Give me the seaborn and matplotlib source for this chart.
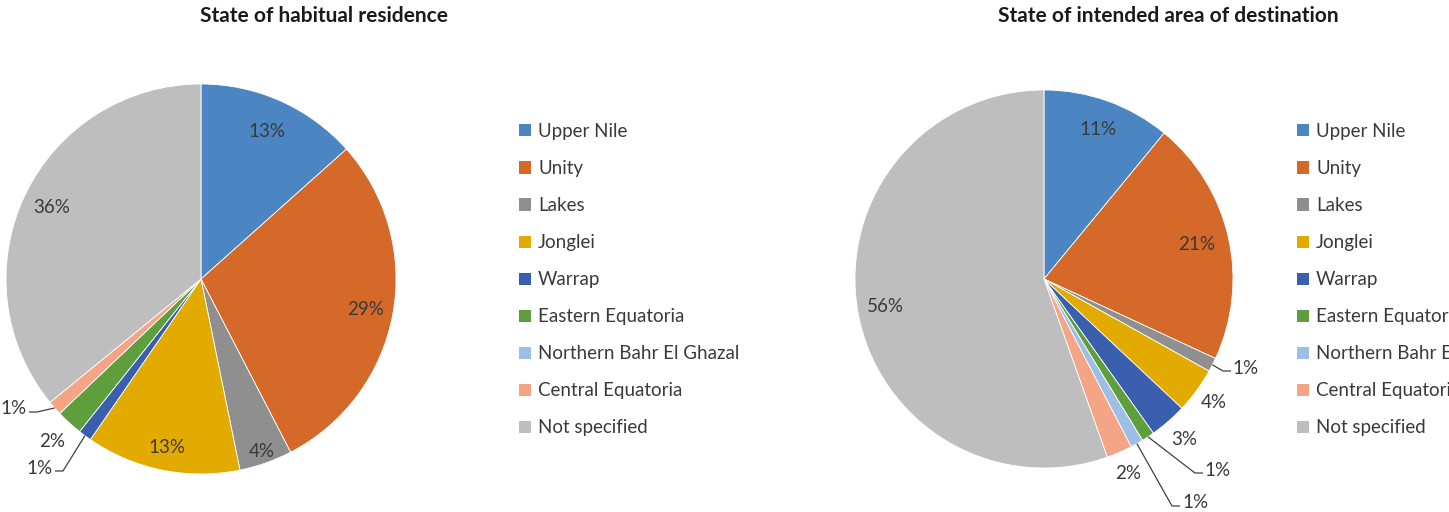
import numpy as np
import matplotlib
matplotlib.use("Agg")
import matplotlib.pyplot as plt
import seaborn as sns
from matplotlib.patches import Patch

# ---------------- data ----------------
categories = ["Upper Nile", "Unity", "Lakes", "Jonglei", "Warrap",
              "Eastern Equatoria", "Northern Bahr El Ghazal",
              "Central Equatoria", "Not specified"]
residence_values = [13.4, 29.0, 4.4, 12.8, 1.1, 2.2, 0.0, 1.2, 35.9]
destination_values = [11.0, 21.0, 1.2, 3.9, 3.2, 1.1, 1.1, 2.2, 55.6]
titles = ["State of habitual residence", "State of intended area of destination"]
colors = ["#4C86C2", "#D4692A", "#8F8F8F", "#E3AB00", "#3A5FAE",
          "#5E9E3C", "#9DBFE6", "#F4A585", "#BEBEBE"]

sns.set_theme(style="white")
FONT = ["Lato", "DejaVu Sans"]
plt.rcParams["font.family"] = FONT

W, H = 1449, 512
fig = plt.figure(figsize=(W / 100, H / 100), dpi=100)
LABEL_FS = 13.5
TXT = "#3a3a3a"


def make_axes(cx, cy, R, x0, x1, y0, y1):
    """axes covering pixel box x0..x1, y0..y1 (from top), pie of radius 1 centred at (cx, cy) px"""
    ax = fig.add_axes([x0 / W, 1 - y1 / H, (x1 - x0) / W, (y1 - y0) / H])
    return ax, (cx, cy, R, x0, x1, y0, y1)


def draw_pie(ax, geo, values, inside_r, outside, leaders):
    cx, cy, R, x0, x1, y0, y1 = geo
    wedges, _ = ax.pie(values, colors=colors, startangle=90, counterclock=False,
                       radius=1.0, wedgeprops=dict(edgecolor="white", linewidth=0.6))
    ax.set_xlim((x0 - cx) / R, (x1 - cx) / R)
    ax.set_ylim((cy - y1) / R, (cy - y0) / R)
    ax.set_aspect("auto")
    ax.axis("off")
    total = sum(values)
    cum = 0.0
    for i, v in enumerate(values):
        mid = (cum + v / 2) / total * 2 * np.pi
        cum += v
        if v <= 0:
            continue
        lab = f"{v:.0f}%"
        ex, ey = np.sin(mid), np.cos(mid)
        if i in leaders:
            tx, ty, side = leaders[i]   # text position in pixels
            tx_d, ty_d = (tx - cx) / R, (cy - ty) / R
            pad = 15 / R
            seg = 8 / R
            if side == "left":   # text on left, line goes right
                e1 = tx_d + pad
                e2 = e1 + seg
            else:
                e1 = tx_d - pad
                e2 = e1 - seg
            ly = ty_d - 3 / R
            ax.plot([e1, e2, ex], [ly, ly, ey], color="#404040", lw=0.9,
                    solid_capstyle="butt")
            ax.text(tx_d, ty_d, lab, ha="center", va="center", fontsize=LABEL_FS,
                    color=TXT)
        elif i in outside:
            r = outside[i]
            ax.text(r * ex, r * ey, lab, ha="center", va="center", fontsize=LABEL_FS,
                    color=TXT)
        else:
            r = inside_r.get(i, 0.85)
            ax.text(r * ex, r * ey, lab, ha="center", va="center", fontsize=LABEL_FS,
                    color=TXT)
    return wedges


# left pie
axL, geoL = make_axes(201, 279, 195, 0, 500, 40, 512)
wL = draw_pie(axL, geoL, residence_values,
              inside_r={0: 0.83, 1: 0.86, 2: 0.94, 3: 0.88, 8: 0.85},
              outside={5: 1.13},
              leaders={7: (14, 409, "left"), 4: (40, 468, "left")})

# right pie
axR, geoR = make_axes(1044, 279, 189, 820, 1290, 40, 512)
wR = draw_pie(axR, geoR, destination_values,
              inside_r={0: 0.84, 1: 0.83, 8: 0.85},
              outside={3: 1.11, 4: 1.13, 7: 1.12},
              leaders={2: (1246, 368, "right"), 5: (1218, 470, "right"),
                       6: (1195, 503, "right")})

fig.text(324 / W, 1 - 16 / H, titles[0], ha="center", va="center",
         fontsize=15, fontweight="bold", color="#1a1a1a")
fig.text(1168 / W, 1 - 16 / H, titles[1], ha="center", va="center",
         fontsize=15, fontweight="bold", color="#1a1a1a")

handles = [Patch(facecolor=c, edgecolor="none") for c in colors]
for lx in (519, 1297):
    fig.legend(handles, categories, loc="upper left",
               bbox_to_anchor=(lx / W, 1 - 123 / H), frameon=False,
               fontsize=LABEL_FS, labelspacing=1.07, handlelength=0.62,
               handleheight=0.62, handletextpad=0.4, borderpad=0,
               borderaxespad=0, labelcolor=TXT)

fig.savefig("out.png", dpi=100, facecolor="white")
